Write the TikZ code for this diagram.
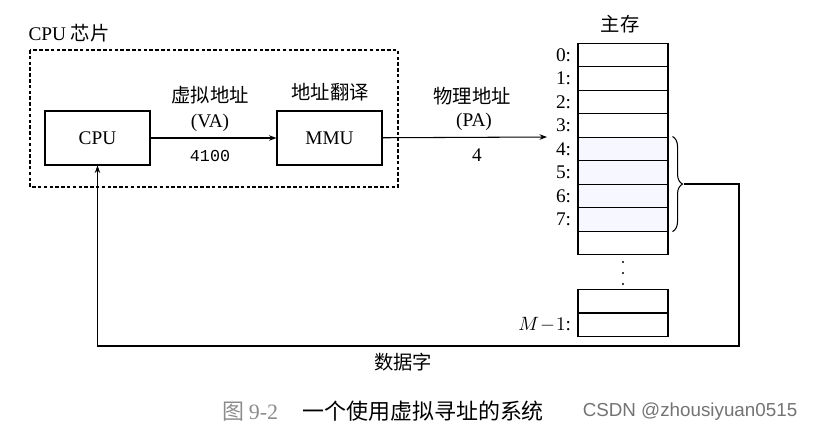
\documentclass[tikz,border=0pt]{standalone}
\usepackage{fontspec}
\setmainfont{Liberation Serif}
\setmonofont{Liberation Mono}
\newfontfamily\cjk{Noto Sans CJK SC}
\newfontfamily\wmfont{Liberation Sans}
\usetikzlibrary{arrows.meta,decorations.pathreplacing}

\begin{document}
\begin{tikzpicture}[x=0.02cm,y=-0.02cm,>={Stealth[length=1.5mm,width=1.1mm]},
  font=\fontsize{11}{13}\selectfont,line width=0.6pt,
  unit/.style={draw,minimum width=2.1cm,minimum height=1.08cm,inner sep=0pt},
  cell/.style={draw,minimum width=1.8cm,minimum height=0.47cm,inner sep=0pt},
  zh/.style={font=\fontsize{11}{13}\selectfont\cjk}]
\useasboundingbox (0,0) rectangle (814,433);
% CPU chip
\node[anchor=west,inner sep=0pt] (chip) at (28,33) {CPU {\cjk 芯片}};
\draw[dash pattern=on 2pt off 1.3pt] (30,50) rectangle (398,187);
\node[unit] (cpu) at (97.5,138) {CPU};
\node[unit] (mmu) at (329.5,138) {MMU};
\node[zh] (mmutxt) at (330,92) {地址翻译};
\draw[->] (cpu) -- (mmu);
\node[zh] (va) at (210,95) {虚拟地址};
\node (vaabbr) at (210,123) {(VA)};
\node[font=\fontsize{9.5}{11}\ttfamily] (vanum) at (210,156) {4100};
% main memory
\node[zh] (mem) at (620,24) {主存};
\foreach \i in {0,...,8}
  \node[cell] (m\i) at (623,{54.8+23.5*\i}) {};
\foreach \i in {4,...,7}
  \node[cell,fill=blue!3] at (m\i) {};
\foreach \i in {0,...,7}
  \node[anchor=east] (l\i) at (m\i.west) {\i:};
\foreach \y in {262,273,284}
  \fill (623,\y) circle[radius=1.1];
\node[cell] (mA) at (623,301.5) {};
\node[cell] (mB) at (623,324.5) {};
\node[anchor=east] (lB) at (mB.west) {$M\!-\!1$:};
% physical address
\coordinate (pa) at (547,137);
\draw[->] (mmu) -- (pa);
\node[zh] (paname) at (472,96) {物理地址};
\node (paabbr) at (474,122) {(PA)};
\node (panum) at (477,155) {4};
% data word back to cpu
\draw[decorate,decoration={brace,amplitude=0.2cm}] ([xshift=0.08cm]m4.north east) -- ([xshift=0.08cm]m7.south east);
\coordinate (btip) at (684,184);
\coordinate (ret) at (739,346);
\draw[->] (btip) -| (ret) -| (cpu.south);
\node[zh] (word) at (403,362) {数据字};
% caption
\node[font=\fontsize{12.5}{14}\selectfont\cjk] (cap) at (383,411) {{\color{black!45}图\ {\rmfamily 9-2}}\hspace{1.1em}一个使用虚拟寻址的系统};
\node[font=\fontsize{10.7}{13}\wmfont,text=black!55] (wm) at (690,412) {CSDN @zhousiyuan0515};
\end{tikzpicture}
\end{document}
